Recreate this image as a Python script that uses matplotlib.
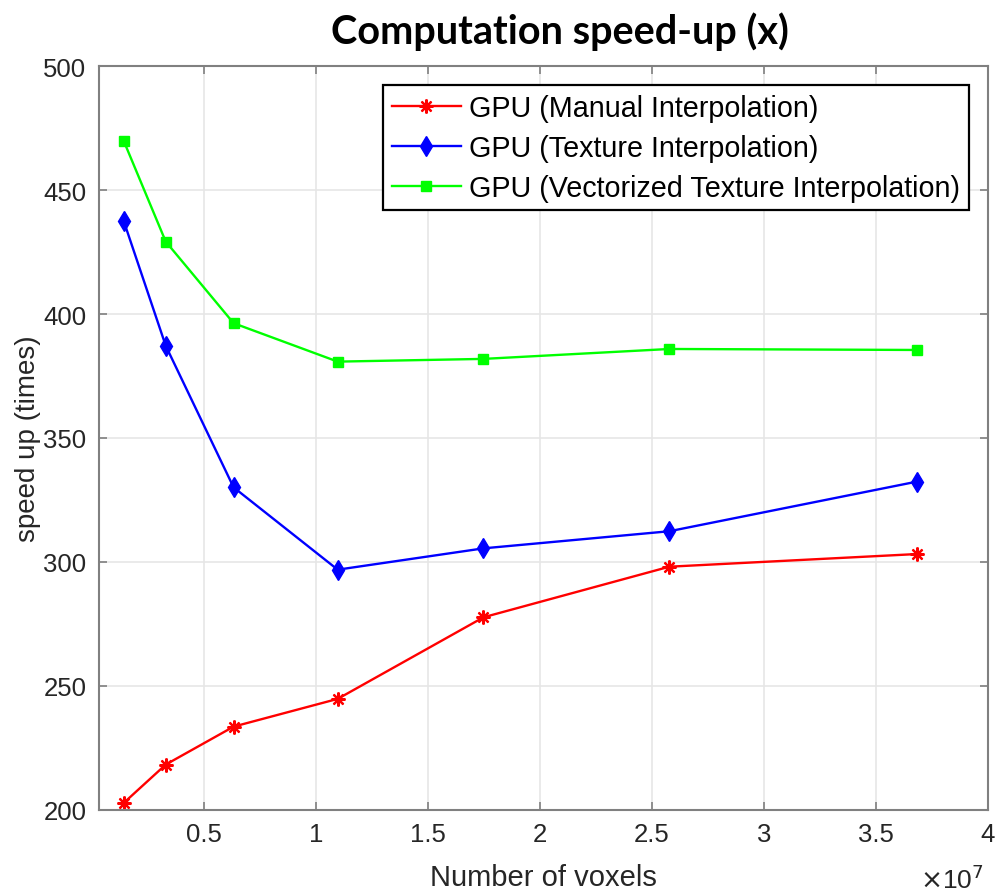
import matplotlib
matplotlib.use("Agg")
import matplotlib.pyplot as plt
from matplotlib.ticker import FuncFormatter

# number of voxels and speed-up factors
voxels = [1.40e6, 3.28e6, 6.31e6, 1.096e7, 1.747e7, 2.577e7, 3.682e7]
manual = [202.8, 218.3, 233.6, 244.8, 277.7, 298.1, 303.2]
texture = [437.6, 387.2, 330.1, 296.9, 305.5, 312.4, 332.4]
vec_texture = [469.9, 429.2, 396.3, 380.8, 381.9, 385.9, 385.5]

labels = ['GPU (Manual Interpolation)',
          'GPU (Texture Interpolation)',
          'GPU (Vectorized Texture Interpolation)']

plt.rcParams['font.family'] = ['Liberation Sans', 'DejaVu Sans']

fig = plt.figure(figsize=(9.98, 8.95), dpi=100)
ax = fig.add_axes([0.0992, 0.0939, 0.8908, 0.8312])

ax.plot(voxels, manual, color='#ff0000', lw=1.7, marker=(8, 2, 0), ms=10,
        mew=1.6, label=labels[0])
ax.plot(voxels, texture, color='#0000ff', lw=1.7, marker='d', ms=10.5,
        label=labels[1])
ax.plot(voxels, vec_texture, color='#00ff00', lw=1.7, marker='s', ms=7,
        label=labels[2])

ax.set_xlim(0.03e7, 4e7)
ax.set_ylim(200, 500)
ax.set_xticks([0.5e7, 1e7, 1.5e7, 2e7, 2.5e7, 3e7, 3.5e7, 4e7])
ax.set_yticks([200, 250, 300, 350, 400, 450, 500])
ax.xaxis.set_major_formatter(FuncFormatter(lambda v, p: f"{v / 1e7:g}"))

ax.grid(True, color='#e6e6e6', lw=1.2)
ax.set_axisbelow(True)
for s in ax.spines.values():
    s.set_color('#808080')
    s.set_linewidth(1.5)
ax.tick_params(direction='in', length=6, width=1.2, color='#808080',
               labelsize=18.5, labelcolor='#262626', top=True, right=True, pad=9)

ax.set_xlabel('Number of voxels', fontsize=21, color='#262626', labelpad=12)
ax.set_ylabel('speed up (times)', fontsize=20, color='#262626', labelpad=2)
ax.text(0.995, -0.092, r'$\times$10$^7$', transform=ax.transAxes, ha='right',
        va='center', fontsize=19, color='#262626')

leg = ax.legend(loc='upper right', bbox_to_anchor=(0.9786, 0.9745),
                borderaxespad=0, fontsize=20.7, fancybox=False,
                edgecolor='black', framealpha=1, handlelength=2.4,
                handletextpad=0.3, labelspacing=0.42, borderpad=0.3)
leg.get_frame().set_linewidth(1.6)

fig.text(0.561, 0.965, 'Computation speed-up (x)', ha='center', va='center',
         fontsize=28.5, fontweight='bold', family='Lato')

fig.savefig('out.png', dpi=100)
